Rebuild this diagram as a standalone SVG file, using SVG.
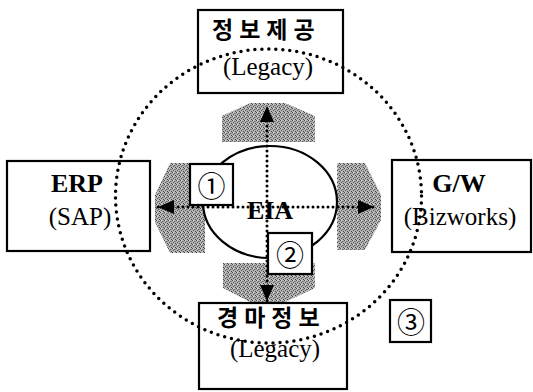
<svg xmlns="http://www.w3.org/2000/svg" width="533" height="392" viewBox="0 0 533 392">
<style>
.box{fill:#fff;stroke:#000;stroke-width:2.2}
.blob{fill:url(#stip)}
.dot{fill:none;stroke:#000;stroke-width:3;stroke-linecap:round;stroke-dasharray:0 5}
.big{fill:none;stroke:#000;stroke-width:3.5;stroke-linecap:round;stroke-dasharray:0 7}
.ko{font-family:"Noto Sans CJK KR",sans-serif;font-weight:700;font-size:23px;letter-spacing:6px;fill:#000}
.en{font-family:"Liberation Serif",serif;font-size:25px;fill:#000;text-anchor:middle}
.bd{font-family:"Liberation Serif",serif;font-size:26px;font-weight:700;fill:#000;text-anchor:middle}
.num{font-family:"Noto Sans CJK KR",sans-serif;font-size:28px;fill:#000;text-anchor:middle;dominant-baseline:central}
</style>
<defs>
<pattern id="stip" width="4" height="4" patternUnits="userSpaceOnUse">
<rect width="4" height="4" fill="#b4b4b4"/>
<rect x="0" y="0" width="1" height="1" fill="#444"/>
<rect x="2" y="1" width="1" height="1" fill="#666"/>
<rect x="1" y="2" width="1" height="1" fill="#555"/>
<rect x="3" y="3" width="1" height="1" fill="#444"/>
<rect x="3" y="1" width="1" height="1" fill="#888"/>
<rect x="1" y="0" width="1" height="1" fill="#d8d8d8"/>
</pattern>
<marker id="ah" markerUnits="userSpaceOnUse" markerWidth="16" markerHeight="14" refX="16" refY="7" orient="auto-start-reverse">
<path d="M0,0 L16,7 L0,14 z" fill="#000"/>
</marker>
</defs>
<g id="blobs">
<path class="blob" d="M222,116 L250,103 L285,103 L315,116 L315,142 L222,142 z"/>
<path class="blob" d="M205,163 L170,163 L155,195 L155,222 L170,253 L205,253 z"/>
<path class="blob" d="M337,163 L365,163 L381,195 L381,220 L365,250 L337,250 z"/>
<path class="blob" d="M223,263 L315,263 L315,288 L285,302 L250,302 L223,288 z"/>
</g>
<g id="eia">
<ellipse cx="270" cy="202" rx="67" ry="56" fill="#fff" stroke="#000" stroke-width="2.2"/>
</g>
<g id="connectors">
<line class="dot" x1="267" y1="301" x2="267" y2="106" marker-start="url(#ah)" marker-end="url(#ah)"/>
<line class="dot" x1="158" y1="207" x2="374" y2="207" marker-start="url(#ah)" marker-end="url(#ah)"/>
</g>
<g id="eia-label">
<text class="bd" x="270" y="219">EIA</text>
</g>
<g id="n1">
<rect class="box" x="190" y="164" width="43" height="41"/>
<text class="num" x="211.5" y="185">①</text>
</g>
<g id="n2">
<rect class="box" x="268" y="233" width="44" height="41"/>
<text class="num" x="290" y="254">②</text>
</g>
<g id="top">
<rect class="box" x="198" y="10" width="145" height="83"/>
<text class="ko" x="212" y="38">정보제공</text>
<text class="en" x="268" y="75">(Legacy)</text>
</g>
<g id="erp">
<rect class="box" x="7" y="161" width="143" height="90"/>
<text class="bd" x="77" y="192">ERP</text>
<text class="en" x="80" y="225">(SAP)</text>
</g>
<g id="gw">
<rect class="box" x="392" y="160" width="139" height="92"/>
<text class="bd" x="459" y="192">G/W</text>
<text class="en" x="460" y="225">(Bizworks)</text>
</g>
<g id="bottom">
<rect class="box" x="199" y="303" width="148" height="86"/>
<text class="ko" x="217" y="326">경마정보</text>
<text class="en" x="275" y="357">(Legacy)</text>
</g>
<g id="ring">
<ellipse class="big" cx="268.5" cy="196" rx="153" ry="147"/>
</g>
<g id="n3">
<rect class="box" x="390" y="300" width="41" height="42"/>
<text class="num" x="411" y="321">③</text>
</g>
</svg>
